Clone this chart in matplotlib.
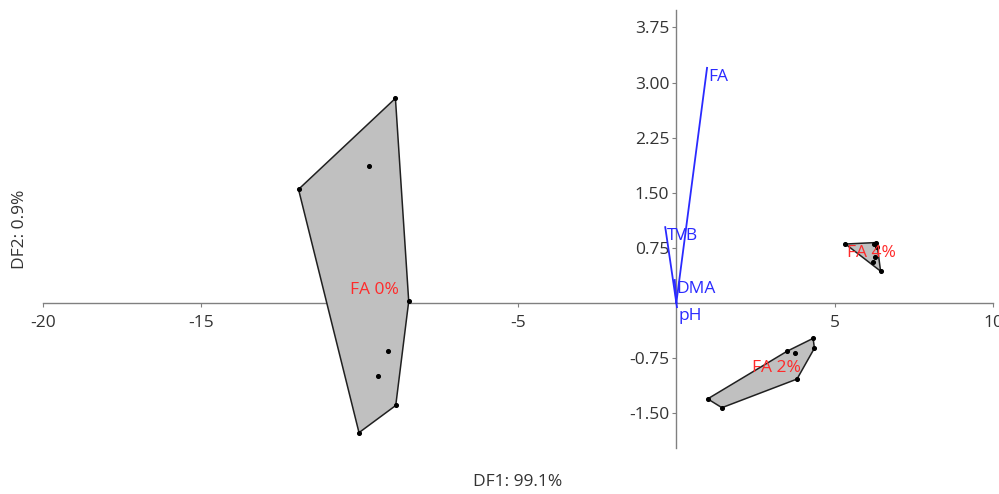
import numpy as np
import matplotlib
matplotlib.use("Agg")
import matplotlib.pyplot as plt
from matplotlib.patches import Polygon

plt.rcParams['font.family'] = ['Open Sans', 'DejaVu Sans']

# group scores (DF1, DF2)
groups = ["FA 0%", "FA 2%", "FA 4%"]
fa0_x = [-8.87, -9.72, -11.93, -8.45, -9.12, -9.41, -8.86, -10.02]
fa0_y = [2.785, 1.86, 1.545, 0.02, -0.66, -1.00, -1.40, -1.77]
fa2_x = [4.32, 4.36, 3.81, 1.44, 0.99, 3.50, 3.76]
fa2_y = [-0.485, -0.62, -1.04, -1.43, -1.31, -0.66, -0.68]
fa4_x = [5.34, 6.23, 6.31, 6.35, 6.45, 6.28, 6.20]
fa4_y = [0.80, 0.80, 0.82, 0.76, 0.43, 0.62, 0.55]

# variable loadings (biplot vectors)
variables = ["FA", "TVB", "DMA", "pH"]
load_x = [0.97, -0.35, -0.05, 0.02]
load_y = [3.20, 1.03, 0.31, -0.06]

xticks = [-20, -15, -10, -5, 5, 10]
yticks = [-1.50, -0.75, 0.75, 1.50, 2.25, 3.00, 3.75]


def hull(pts):
    # monotone chain convex hull
    pts = sorted(map(tuple, pts))
    def cross(o, a, b):
        return (a[0]-o[0])*(b[1]-o[1]) - (a[1]-o[1])*(b[0]-o[0])
    lower, upper = [], []
    for p in pts:
        while len(lower) >= 2 and cross(lower[-2], lower[-1], p) <= 0:
            lower.pop()
        lower.append(p)
    for p in reversed(pts):
        while len(upper) >= 2 and cross(upper[-2], upper[-1], p) <= 0:
            upper.pop()
        upper.append(p)
    return lower[:-1] + upper[:-1]


fig = plt.figure(figsize=(9.99, 4.94), dpi=100)
ax = fig.add_axes([0.043, 0.093, 0.951, 0.887])

for name, xs, ys in zip(groups, [fa0_x, fa2_x, fa4_x], [fa0_y, fa2_y, fa4_y]):
    pts = np.column_stack([xs, ys])
    poly = Polygon(hull(pts), closed=True, facecolor='#c0c0c0',
                   edgecolor='#202020', linewidth=1.1, zorder=2)
    ax.add_patch(poly)
    ax.scatter(xs, ys, s=7, color='black', zorder=3)
    ax.text(np.mean(xs), np.mean(ys), name, color='#ff2a2a', fontsize=12.5,
            ha='center', va='center', zorder=4)

for name, lx, ly in zip(variables, load_x, load_y):
    ax.plot([0, lx], [0, ly], color='#2a2aff', linewidth=1.3, zorder=5)
    ax.text(lx + 0.05, ly - 0.01, name, color='#2a2aff', fontsize=12.5,
            ha='left', va='top', zorder=6)

ax.set_xlim(-20, 10)
ax.set_ylim(-1.98, 3.99)
ax.spines['left'].set_position(('data', 0))
ax.spines['bottom'].set_position(('data', 0))
ax.spines['top'].set_visible(False)
ax.spines['right'].set_visible(False)
for s in ['left', 'bottom']:
    ax.spines[s].set_color('#808080')
    ax.spines[s].set_linewidth(1.0)
    ax.spines[s].set_zorder(1)

ax.set_xticks(xticks)
ax.set_xticklabels([str(t) for t in xticks])
ax.set_yticks(yticks)
ax.set_yticklabels(["%.2f" % t for t in yticks])
ax.tick_params(axis='both', direction='out', length=3, color='#808080',
               labelsize=12.5, labelcolor='#333333')
ax.tick_params(axis='x', pad=6)
ax.tick_params(axis='y', pad=2)

fig.text(0.518, 0.024, "DF1: 99.1%", ha='center', va='center',
         fontsize=12.5, color='#333333')
fig.text(0.02, 0.536, "DF2: 0.9%", ha='center', va='center', rotation=90,
         fontsize=12.5, color='#333333')

fig.savefig("out.png", dpi=100)
